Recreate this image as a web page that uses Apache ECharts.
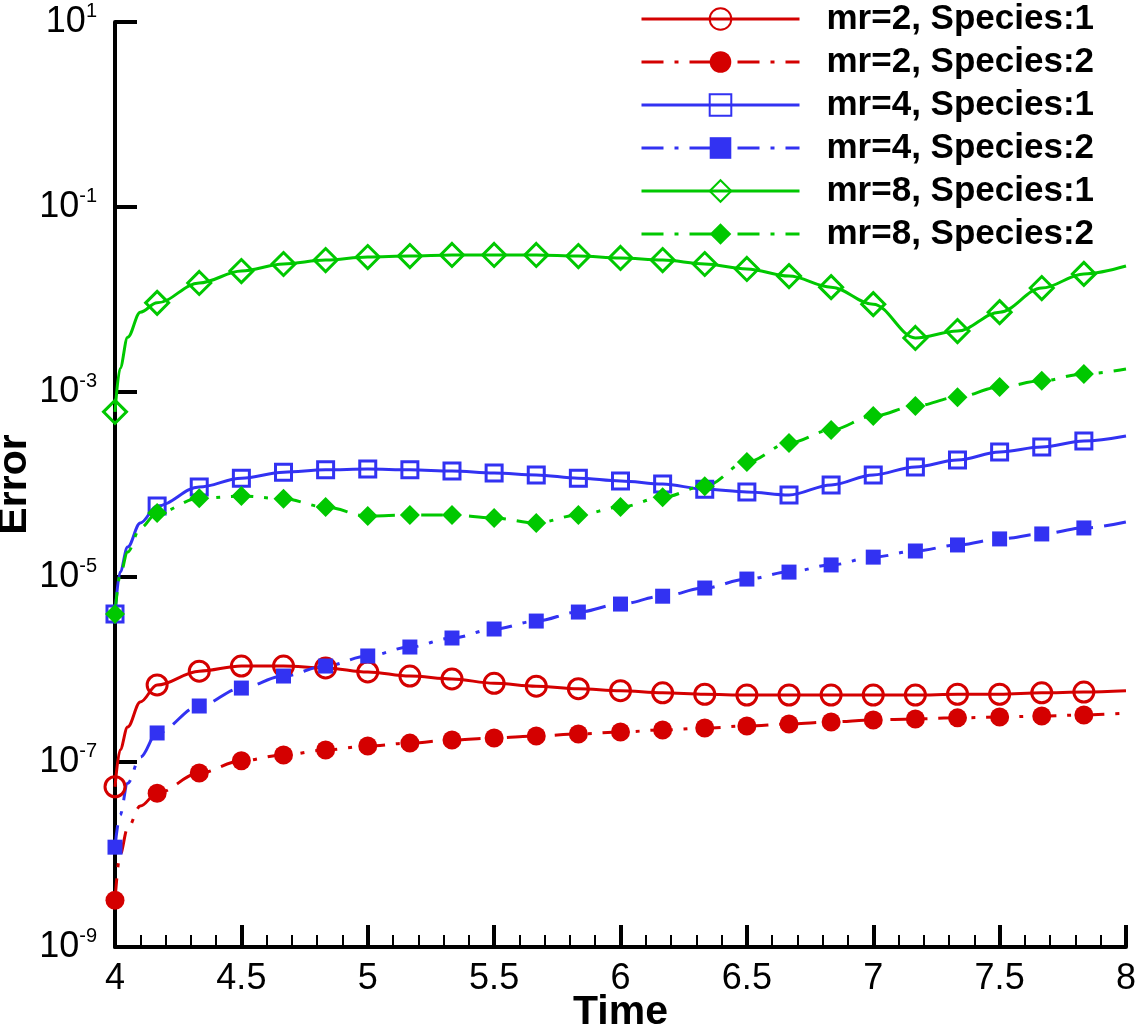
<!DOCTYPE html>
<html>
<head>
<meta charset="utf-8">
<script src="https://cdn.jsdelivr.net/npm/echarts@6/dist/echarts.min.js"></script>
<style>
  html, body { margin: 0; padding: 0; background: #fff; }
  #chart { width: 1136px; height: 1028px; }
</style>
</head>
<body>
<div id="chart"></div>
<script>
  // time samples; markers only on the 1/6 steps (4.02..4.1 only shape the start of the curves)
  var time = [4, 4.02, 4.05, 4.1, 4.1667, 4.3333, 4.5, 4.6667, 4.8333, 5, 5.1667, 5.3333, 5.5, 5.6667,
    5.8333, 6, 6.1667, 6.3333, 6.5, 6.6667, 6.8333, 7, 7.1667, 7.3333, 7.5, 7.6667, 7.8333, 8];

  var mr2s1 = [5.4e-8, 1.35e-7, 2.39e-7, 4.46e-7, 6.8e-7, 9.6e-7, 1.09e-6, 1.09e-6, 1.04e-6, 9.4e-7, 8.5e-7,
    7.9e-7, 7.1e-7, 6.6e-7, 6.2e-7, 5.9e-7, 5.6e-7, 5.4e-7, 5.3e-7, 5.3e-7, 5.3e-7, 5.3e-7, 5.3e-7, 5.4e-7,
    5.4e-7, 5.6e-7, 5.7e-7, 5.9e-7];
  var mr2s2 = [3.2e-9, 9.9e-9, 1.93e-8, 3.34e-8, 4.6e-8, 7.6e-8, 1.03e-7, 1.19e-7, 1.35e-7, 1.49e-7, 1.60e-7,
    1.73e-7, 1.82e-7, 1.91e-7, 2.01e-7, 2.11e-7, 2.22e-7, 2.33e-7, 2.45e-7, 2.58e-7, 2.71e-7, 2.85e-7, 2.92e-7,
    3.0e-7, 3.06e-7, 3.14e-7, 3.22e-7, 3.39e-7];
  var mr4s1 = [3.98e-6, 1.13e-5, 2.11e-5, 3.84e-5, 5.86e-5, 9.4e-5, 1.17e-4, 1.36e-4, 1.44e-4, 1.47e-4, 1.44e-4,
    1.40e-4, 1.33e-4, 1.27e-4, 1.17e-4, 1.09e-4, 1.01e-4, 8.9e-5, 8.3e-5, 7.7e-5, 9.9e-5, 1.27e-4, 1.55e-4,
    1.84e-4, 2.25e-4, 2.54e-4, 2.95e-4, 3.34e-4];
  var mr4s2 = [1.2e-8, 2.67e-8, 5.9e-8, 1.13e-7, 2.06e-7, 4.03e-7, 6.3e-7, 8.5e-7, 1.09e-6, 1.40e-6, 1.75e-6,
    2.19e-6, 2.74e-6, 3.34e-6, 4.18e-6, 5.1e-6, 6.2e-6, 7.6e-6, 9.5e-6, 1.13e-5, 1.35e-5, 1.64e-5, 1.91e-5,
    2.22e-5, 2.58e-5, 2.92e-5, 3.39e-5, 3.94e-5];
  var mr8s1 = [6.1e-4, 1.8e-3, 3.9e-3, 7.3e-3, 9.2e-3, 1.51e-2, 2.03e-2, 2.42e-2, 2.67e-2, 2.88e-2, 2.95e-2,
    3.03e-2, 3.03e-2, 3.03e-2, 2.95e-2, 2.81e-2, 2.67e-2, 2.42e-2, 2.14e-2, 1.79e-2, 1.36e-2, 8.9e-3, 3.84e-3,
    4.56e-3, 7.3e-3, 1.33e-2, 1.89e-2, 2.30e-2];
  var mr8s2 = [3.98e-6, 1.05e-5, 1.86e-5, 3.39e-5, 4.92e-5, 7.1e-5, 7.5e-5, 7.0e-5, 5.7e-5, 4.56e-5, 4.68e-5,
    4.68e-5, 4.34e-5, 3.84e-5, 4.68e-5, 5.7e-5, 7.3e-5, 9.6e-5, 1.75e-4, 2.81e-4, 3.88e-4, 5.5e-4, 7.06e-4,
    8.8e-4, 1.13e-3, 1.32e-3, 1.57e-3, 1.77e-3];

  var yTickExp = [-9, -7, -5, -3, -1, 1];

  var RED = '#d40000', BLUE = '#3232f2', GREEN = '#00c800';
  var DASHDOT = [22, 11, 4, 11];
  var FONT = 'Liberation Sans, Arial, Helvetica, sans-serif';

  function isMarker(t) {
    var k = (t - 4) * 6;
    return t < 8 && Math.abs(k - Math.round(k)) < 0.01;
  }

  function makeSeries(name, vals, color, symbol, size, hollow, dashed) {
    return {
      name: name,
      type: 'line',
      smooth: 0.35,
      smoothMonotone: 'x',
      symbol: symbol,
      symbolSize: size,
      showAllSymbol: true,
      lineStyle: {color: color, width: 3, type: dashed ? DASHDOT : 'solid'},
      itemStyle: hollow
        ? {color: 'rgba(255,255,255,0)', borderColor: color, borderWidth: 3}
        : {color: color, borderWidth: 0},
      emphasis: {disabled: true},
      data: time.map(function (t, i) {
        var d = {value: [t, Math.log10(vals[i])]};
        if (!isMarker(t)) d.symbol = 'none';
        return d;
      })
    };
  }

  var myChart = echarts.init(document.getElementById('chart'));
  myChart.setOption({
    animation: false,
    grid: {left: 115, right: 10, top: 22, bottom: 81, containLabel: false, outerBoundsMode: 'none'},
    legend: {
      left: 640,
      top: 1,
      padding: 0,
      orient: 'vertical',
      itemWidth: 158,
      itemHeight: 27,
      itemGap: 7,
      lineStyle: {width: 3},
      textStyle: {fontFamily: FONT, fontWeight: 'bold', fontSize: 35, lineHeight: 36, color: '#000',
        padding: [0, 0, 0, 22]},
      data: ['mr=2, Species:1', 'mr=2, Species:2', 'mr=4, Species:1', 'mr=4, Species:2',
        'mr=8, Species:1', 'mr=8, Species:2']
    },
    xAxis: {
      type: 'value',
      min: 4,
      max: 8,
      interval: 0.5,
      name: 'Time',
      nameLocation: 'middle',
      nameGap: 45,
      nameMoveOverlap: false,
      nameTextStyle: {fontFamily: FONT, fontWeight: 'bold', fontSize: 41, color: '#000'},
      axisLine: {onZero: false, lineStyle: {color: '#000', width: 4}},
      axisTick: {inside: true, length: 22, lineStyle: {color: '#000', width: 4}},
      minorTick: {show: true, splitNumber: 5, length: 12, lineStyle: {color: '#000', width: 2}},
      splitLine: {show: false},
      axisLabel: {fontFamily: FONT, fontSize: 36, color: '#000', margin: 14}
    },
    yAxis: {
      type: 'value',
      min: -9,
      max: 1,
      name: 'Error',
      nameLocation: 'middle',
      nameGap: 80,
      nameMoveOverlap: false,
      nameTextStyle: {fontFamily: FONT, fontWeight: 'bold', fontSize: 41, color: '#000'},
      axisLine: {onZero: false, lineStyle: {color: '#000', width: 4}},
      axisTick: {inside: true, length: 22, customValues: yTickExp, lineStyle: {color: '#000', width: 4}},
      splitLine: {show: false},
      axisLabel: {
        customValues: yTickExp,
        margin: 18,
        formatter: function (v) {
          return '{b|10}{s|' + v + '}';
        },
        rich: {
          b: {fontFamily: FONT, fontSize: 36, color: '#000'},
          s: {fontFamily: FONT, fontSize: 20, color: '#000', padding: [0, 0, 22, 0]}
        }
      }
    },
    series: [
      makeSeries('mr=2, Species:1', mr2s1, RED, 'circle', 20, true, false),
      makeSeries('mr=2, Species:2', mr2s2, RED, 'circle', 19, false, true),
      makeSeries('mr=4, Species:1', mr4s1, BLUE, 'rect', 16, true, false),
      makeSeries('mr=4, Species:2', mr4s2, BLUE, 'rect', 15, false, true),
      makeSeries('mr=8, Species:1', mr8s1, GREEN, 'diamond', 23, true, false),
      makeSeries('mr=8, Species:2', mr8s2, GREEN, 'diamond', 20, false, true)
    ]
  });
</script>
</body>
</html>
